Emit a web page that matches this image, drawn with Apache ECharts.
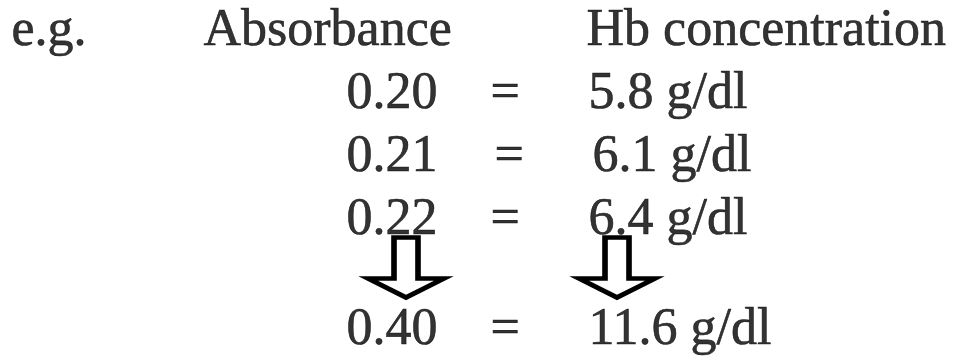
<!DOCTYPE html>
<html>
<head>
<meta charset="utf-8">
<title>Absorbance to Hb concentration</title>
<script src="https://cdn.jsdelivr.net/npm/echarts@6/dist/echarts.min.js"></script>
<style>
  html, body { margin: 0; padding: 0; background: #fff; }
  #chart { width: 963px; height: 362px; }
</style>
</head>
<body>
<div id="chart"></div>
<script>
// data
const headerLabels = ['e.g.', 'Absorbance', 'Hb concentration']
const absorbance = ['0.20', '0.21', '0.22', '0.40']
const hbConcentration = ['5.8', '6.1', '6.4', '11.6']
const unit = 'g/dl'
const topRows = ['header', 'row1', 'row2', 'row3']
const bottomRows = ['arrow', 'row4']

// layout (pixel columns on a hidden x axis)
const COL = { eg: 12, absHead: 204, concHead: 587, abs: 347, eq: 491, conc: 589, arrowAbs: 406, arrowConc: 617 }
const ROW_SHIFT = [0, 4, 0, 0]
const FONT = {
  fontFamily: '"Liberation Serif", "Times New Roman", serif',
  fontSize: 52,
  color: '#000',
  textBorderColor: '#000',
  textBorderWidth: 0.6
}

// the last value row sits in the lower grid, after the arrows
const rowOf = i => (i < 3 ? { grid: 0, row: topRows[i + 1] } : { grid: 1, row: bottomRows[1] })

const textSeries = (grid, items) => ({
  type: 'scatter',
  xAxisIndex: grid,
  yAxisIndex: grid,
  symbolSize: 1,
  itemStyle: { color: 'rgba(0,0,0,0)' },
  silent: true,
  emphasis: { disabled: true },
  label: {
    show: true,
    position: [0, 0],
    align: 'left',
    verticalAlign: 'middle',
    formatter: p => p.name,
    ...FONT
  },
  data: items
})

const headCols = [COL.eg, COL.absHead, COL.concHead]
const headerItems = headerLabels.map((t, i) => ({ name: t, value: [headCols[i], 'header'] }))

const valueItems = [[], []]
absorbance.forEach((a, i) => {
  const r = rowOf(i)
  valueItems[r.grid].push(
    { name: a, value: [COL.abs, r.row] },
    { name: '=', value: [COL.eq + ROW_SHIFT[i], r.row] },
    { name: hbConcentration[i] + ' ' + unit, value: [COL.conc + ROW_SHIFT[i], r.row] }
  )
})

// hollow block arrow
const arrowPath = 'path://M-12,0L12,0L12,41L38,41L0,60L-38,41L-12,41Z'

const chart = echarts.init(document.getElementById('chart'))
chart.setOption({
  backgroundColor: '#fff',
  animation: false,
  grid: [
    { left: 0, right: 0, top: 0, height: 252 },
    { left: 0, right: 0, top: 236, height: 130 }
  ],
  xAxis: [0, 1].map(g => ({ type: 'value', gridIndex: g, min: 0, max: 963, show: false })),
  yAxis: [
    { type: 'category', gridIndex: 0, data: topRows, inverse: true, show: false },
    { type: 'category', gridIndex: 1, data: bottomRows, inverse: true, show: false }
  ],
  series: [
    textSeries(0, headerItems),
    textSeries(0, valueItems[0]),
    textSeries(1, valueItems[1]),
    {
      type: 'scatter',
      xAxisIndex: 1,
      yAxisIndex: 1,
      symbol: arrowPath,
      symbolSize: [76, 60],
      silent: true,
      emphasis: { disabled: true },
      itemStyle: { color: '#fff', borderColor: '#000', borderWidth: 5, opacity: 1 },
      data: [[COL.arrowAbs, 'arrow'], [COL.arrowConc, 'arrow']]
    }
  ]
})

window.addEventListener('resize', () => chart.resize())
</script>
</body>
</html>
